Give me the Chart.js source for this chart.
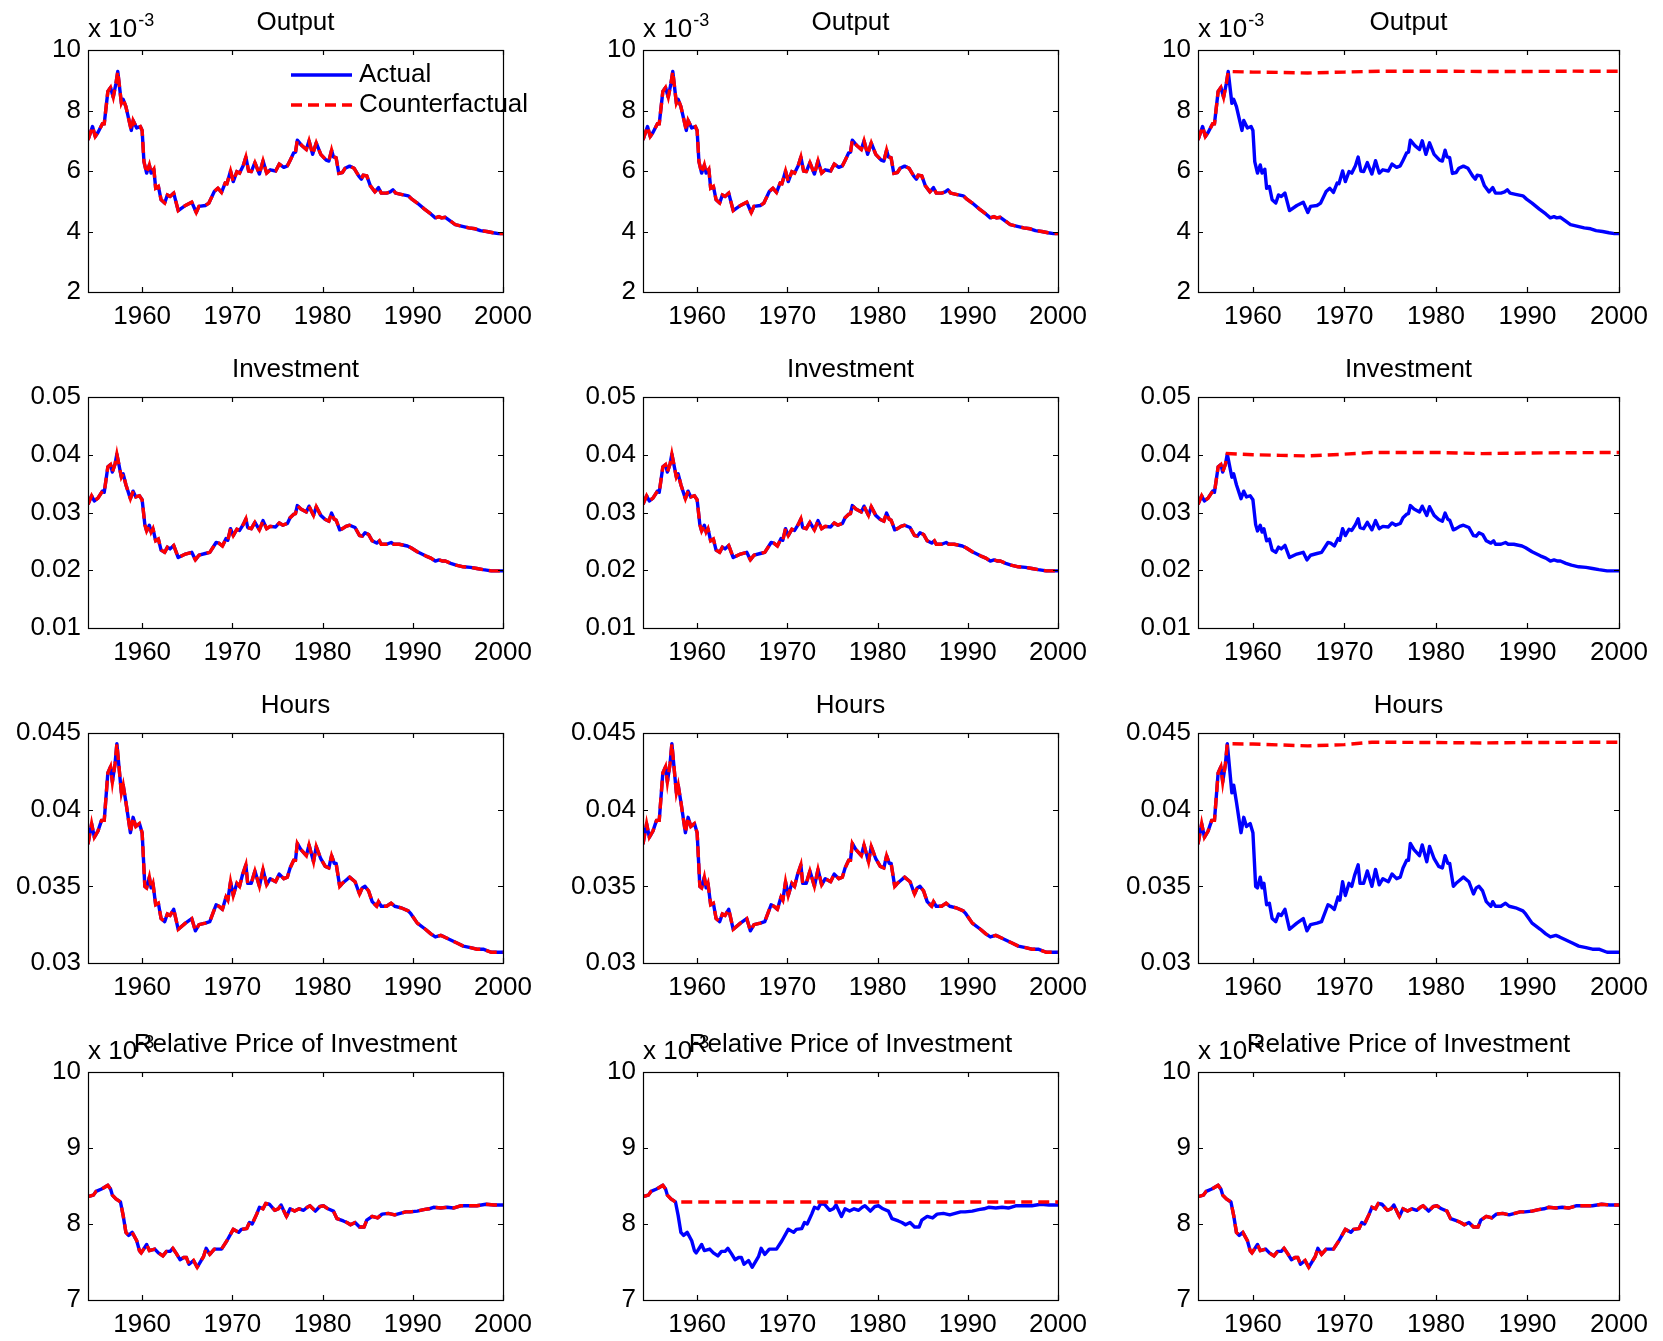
<!DOCTYPE html>
<html>
<head>
<meta charset="utf-8">
<script src="https://cdn.jsdelivr.net/npm/chart.js@4.4.0/dist/chart.umd.min.js"></script>
<style>
body { margin: 0; background: #fff; }
#page { position: relative; width: 1663px; height: 1341px; overflow: hidden; background: #fff; }
#page canvas { position: absolute; }
</style>
</head>
<body>
<div id="page"></div>
<script>
// x axis (years)
var xMin = 1954, xMax = 2000;
var xTicks = [1960, 1970, 1980, 1990, 2000];

// Output, in units of 10^-3
var outputYears = [1954.0, 1954.5, 1954.8, 1955.1, 1955.6, 1955.8, 1956.2, 1956.5, 1956.8, 1957.1, 1957.3, 1957.7, 1957.9, 1958.2, 1958.8, 1959.0, 1959.4, 1959.8,
    1960.0, 1960.2, 1960.5, 1960.8, 1961.0, 1961.3, 1961.5, 1961.8, 1962.1, 1962.5, 1962.8, 1963.1, 1963.5, 1964.0, 1964.8, 1965.5, 1966.0, 1966.3, 1967.0, 1967.4,
    1968.0, 1968.4, 1968.8, 1969.2, 1969.4, 1969.8, 1970.1, 1970.5, 1970.8, 1971.2, 1971.5, 1971.8, 1972.1, 1972.5, 1973.0, 1973.4, 1973.8, 1974.2, 1974.8,
    1975.2, 1975.7, 1976.1, 1976.4, 1976.8, 1977.0, 1977.2, 1977.7, 1978.2, 1978.5, 1978.9, 1979.3, 1979.8, 1980.4, 1980.7, 1981.0, 1981.2, 1981.5, 1981.8,
    1982.2, 1982.5, 1983.0, 1983.5, 1984.0, 1984.3, 1984.5, 1984.9, 1985.3, 1985.8, 1986.2, 1986.5, 1987.1, 1987.5, 1987.8, 1988.1, 1988.7, 1989.5, 1989.9,
    1990.5, 1991.3, 1992.0, 1992.5, 1992.9, 1993.2, 1993.6, 1994.1, 1994.7, 1995.5, 1996.2, 1996.9, 1997.5, 1998.2, 1998.9, 1999.5, 2000.0];
var outputValues = [7.03, 7.47, 7.14, 7.27, 7.56, 7.56, 8.63, 8.76, 8.44, 8.90, 9.29, 8.24, 8.37, 8.13, 7.34, 7.67, 7.42, 7.47,
    7.34, 6.31, 5.93, 6.20, 5.93, 6.06, 5.43, 5.49, 5.05, 4.94, 5.21, 5.16, 5.27, 4.69, 4.86, 4.97, 4.63, 4.83, 4.86, 4.94,
    5.32, 5.43, 5.29, 5.60, 5.58, 6.00, 5.65, 5.98, 5.93, 6.17, 6.46, 6.00, 5.98, 6.28, 5.90, 6.34, 5.93, 6.04, 6.00,
    6.23, 6.12, 6.17, 6.35, 6.60, 6.62, 7.02, 6.84, 6.71, 7.00, 6.55, 6.93, 6.55, 6.36, 6.33, 6.69, 6.47, 6.44, 5.92,
    5.95, 6.09, 6.16, 6.09, 5.84, 5.73, 5.86, 5.84, 5.51, 5.31, 5.45, 5.27, 5.27, 5.31, 5.38, 5.27, 5.23, 5.18, 5.07,
    4.94, 4.74, 4.58, 4.45, 4.49, 4.45, 4.47, 4.36, 4.23, 4.17, 4.12, 4.09, 4.03, 4.00, 3.96, 3.93, 3.93];
// counterfactual after the 1957 peak (third column)
var outputCfYears = [1957.3, 1960, 1963, 1966, 1970, 1974, 1980, 1985, 1990, 1995, 2000];
var outputCfValues = [9.29, 9.27, 9.26, 9.24, 9.27, 9.30, 9.30, 9.29, 9.29, 9.30, 9.30];
var outputTicks = [2, 4, 6, 8, 10];
var outputTickLabels = ['2', '4', '6', '8', '10'];

// Investment
var investYears = [1954.0, 1954.4, 1954.7, 1955.1, 1955.6, 1955.8, 1956.2, 1956.5, 1956.7, 1957.0, 1957.2, 1957.7, 1957.9, 1958.2, 1958.7, 1959.0, 1959.3, 1959.7,
    1960.0, 1960.3, 1960.5, 1960.8, 1961.0, 1961.2, 1961.5, 1961.8, 1962.1, 1962.5, 1962.8, 1963.1, 1963.5, 1964.0, 1964.8, 1965.5, 1965.9, 1966.3, 1967.0, 1967.5,
    1968.2, 1968.5, 1968.9, 1969.3, 1969.5, 1969.8, 1970.1, 1970.5, 1970.8, 1971.2, 1971.5, 1971.7, 1972.1, 1972.5, 1973.0, 1973.4, 1973.8, 1974.2, 1974.8,
    1975.2, 1975.6, 1976.1, 1976.4, 1976.8, 1977.0, 1977.2, 1977.6, 1978.2, 1978.5, 1979.0, 1979.3, 1979.8, 1980.3, 1980.7, 1981.0, 1981.3, 1981.5, 1981.9,
    1982.2, 1982.6, 1983.0, 1983.6, 1984.1, 1984.4, 1984.7, 1985.1, 1985.5, 1986.0, 1986.3, 1986.5, 1987.1, 1987.6, 1987.9, 1988.5, 1989.4, 1989.8,
    1990.5, 1991.4, 1992.0, 1992.5, 1992.9, 1993.3, 1993.6, 1994.2, 1994.8, 1995.6, 1996.4, 1997.1, 1997.8, 1998.7, 2000.0];
var investValues = [0.0314, 0.0329, 0.0320, 0.0325, 0.0337, 0.0335, 0.0379, 0.0383, 0.0370, 0.0384, 0.0401, 0.0361, 0.0367, 0.0348, 0.0324, 0.0337, 0.0327, 0.0329,
    0.0322, 0.0279, 0.0268, 0.0278, 0.0266, 0.0272, 0.0251, 0.0254, 0.0235, 0.0231, 0.0240, 0.0237, 0.0243, 0.0222, 0.0228, 0.0231, 0.0218, 0.0226, 0.0229, 0.0231,
    0.0248, 0.0247, 0.0242, 0.0255, 0.0252, 0.0272, 0.0260, 0.0271, 0.0269, 0.0279, 0.0289, 0.0274, 0.0272, 0.0283, 0.0270, 0.0286, 0.0272, 0.0276, 0.0275,
    0.0282, 0.0278, 0.0281, 0.0291, 0.0297, 0.0298, 0.0312, 0.0306, 0.0301, 0.0311, 0.0295, 0.0310, 0.0295, 0.0288, 0.0285, 0.0299, 0.0288, 0.0287, 0.0270,
    0.0272, 0.0276, 0.0278, 0.0274, 0.0260, 0.0259, 0.0265, 0.0262, 0.0251, 0.0247, 0.0251, 0.0245, 0.0245, 0.0248, 0.0245, 0.0245, 0.0242, 0.0239,
    0.0232, 0.0225, 0.0221, 0.0216, 0.0218, 0.0216, 0.0216, 0.0212, 0.0209, 0.0206, 0.0205, 0.0203, 0.0201, 0.0199, 0.0199];
var investCfYears = [1957.2, 1960, 1963, 1966, 1970, 1973, 1980, 1985, 1990, 2000];
var investCfValues = [0.0402, 0.0400, 0.0399, 0.0398, 0.0401, 0.0404, 0.0404, 0.0402, 0.0403, 0.0404];
var investTicks = [0.01, 0.02, 0.03, 0.04, 0.05];
var investTickLabels = ['0.01', '0.02', '0.03', '0.04', '0.05'];

// Hours
var hoursYears = [1954.0, 1954.4, 1954.7, 1955.1, 1955.5, 1955.8, 1956.2, 1956.5, 1956.7, 1957.0, 1957.2, 1957.7, 1957.9, 1958.2, 1958.7, 1959.0, 1959.3, 1959.7,
    1960.0, 1960.3, 1960.5, 1960.8, 1961.0, 1961.2, 1961.5, 1961.8, 1962.1, 1962.5, 1962.8, 1963.1, 1963.5, 1964.0, 1964.8, 1965.5, 1965.9, 1966.3, 1967.0, 1967.5,
    1968.2, 1968.5, 1968.9, 1969.3, 1969.5, 1969.8, 1970.1, 1970.5, 1970.8, 1971.1, 1971.5, 1971.7, 1972.1, 1972.5, 1973.0, 1973.4, 1973.8, 1974.2, 1974.8,
    1975.2, 1975.7, 1976.1, 1976.4, 1976.8, 1977.0, 1977.2, 1977.6, 1978.2, 1978.5, 1979.0, 1979.3, 1979.8, 1980.3, 1980.7, 1981.0, 1981.3, 1981.5, 1981.9,
    1982.2, 1982.6, 1983.0, 1983.6, 1984.1, 1984.4, 1984.7, 1985.1, 1985.5, 1986.0, 1986.2, 1986.5, 1987.1, 1987.6, 1988.0, 1988.7, 1989.5, 1989.8,
    1990.5, 1991.4, 1992.0, 1992.5, 1993.1, 1993.5, 1994.2, 1994.9, 1995.6, 1996.4, 1997.1, 1997.8, 1998.7, 2000.0];
var hoursValues = [0.03775, 0.0391, 0.0382, 0.0386, 0.0393, 0.0393, 0.0424, 0.0428, 0.0418, 0.0430, 0.0443, 0.0411, 0.0416, 0.0405, 0.0385, 0.0395, 0.0389, 0.0391,
    0.0385, 0.0350, 0.0349, 0.0356, 0.0349, 0.0352, 0.0338, 0.0339, 0.0329, 0.0327, 0.0332, 0.0331, 0.0335, 0.0322, 0.0326, 0.0329, 0.0321, 0.0325, 0.0326, 0.0327,
    0.0338, 0.0337, 0.0335, 0.0343, 0.0341, 0.0353, 0.0344, 0.0352, 0.0350, 0.0357, 0.0364, 0.0352, 0.0352, 0.0360, 0.0350, 0.0361, 0.0351, 0.0355, 0.0353,
    0.0358, 0.0355, 0.0356, 0.0362, 0.0367, 0.0367, 0.0378, 0.0374, 0.0370, 0.0377, 0.0366, 0.0376, 0.0368, 0.0363, 0.0362, 0.0370, 0.0365, 0.0365, 0.0350,
    0.0352, 0.0354, 0.0356, 0.0353, 0.0345, 0.0349, 0.0350, 0.0347, 0.0340, 0.0337, 0.0340, 0.0337, 0.0337, 0.0339, 0.0337, 0.0336, 0.0334, 0.0332,
    0.0326, 0.0322, 0.0319, 0.0317, 0.0318, 0.0317, 0.0315, 0.0313, 0.0311, 0.0310, 0.0309, 0.0309, 0.0307, 0.0307];
var hoursCfYears = [1957.2, 1960, 1963, 1966, 1970, 1973, 1980, 1985, 1990, 2000];
var hoursCfValues = [0.0443, 0.04428, 0.04422, 0.04416, 0.04424, 0.0444, 0.04438, 0.04435, 0.04438, 0.0444];
var hoursTicks = [0.03, 0.035, 0.04, 0.045];
var hoursTickLabels = ['0.03', '0.035', '0.04', '0.045'];

// Relative price of investment, in units of 10^-3
var priceYears = [1954.0, 1954.6, 1954.9, 1955.5, 1955.8, 1956.2, 1956.5, 1956.7, 1957.1, 1957.6, 1957.9, 1958.2, 1958.5, 1958.9, 1959.4, 1959.7, 1959.9,
    1960.5, 1960.8, 1961.1, 1961.4, 1961.8, 1962.3, 1962.7, 1963.1, 1963.4, 1963.8, 1964.2, 1964.6, 1964.9, 1965.2, 1965.7, 1966.1, 1966.8, 1967.1, 1967.5,
    1968.0, 1968.3, 1968.8, 1969.4, 1970.1, 1970.7, 1971.0, 1971.6, 1971.9, 1972.2, 1972.7, 1973.0, 1973.4, 1973.7, 1974.1, 1974.7, 1975.1, 1975.4,
    1976.0, 1976.4, 1976.9, 1977.4, 1977.9, 1978.3, 1978.6, 1979.2, 1979.7, 1980.1, 1980.6, 1981.2, 1981.6, 1982.3, 1982.7, 1983.1, 1983.6, 1984.1,
    1984.6, 1984.9, 1985.5, 1986.1, 1986.6, 1987.3, 1988.0, 1988.6, 1989.2, 1989.7, 1990.5, 1991.2, 1991.8, 1992.3, 1993.1, 1993.8, 1994.5, 1995.3,
    1996.2, 1997.1, 1998.1, 1999.0, 2000.0];
var priceValues = [8.36, 8.38, 8.43, 8.46, 8.48, 8.51, 8.46, 8.38, 8.33, 8.29, 8.11, 7.89, 7.85, 7.89, 7.78, 7.65, 7.62,
    7.73, 7.65, 7.66, 7.67, 7.62, 7.58, 7.64, 7.64, 7.68, 7.61, 7.53, 7.56, 7.56, 7.47, 7.52, 7.43, 7.57, 7.68, 7.60,
    7.67, 7.67, 7.67, 7.78, 7.93, 7.89, 7.93, 7.94, 8.02, 8.00, 8.13, 8.22, 8.20, 8.27, 8.26, 8.18, 8.20, 8.25,
    8.10, 8.20, 8.17, 8.20, 8.18, 8.22, 8.24, 8.17, 8.23, 8.24, 8.20, 8.17, 8.07, 8.04, 8.02, 7.99, 8.02, 7.96,
    7.96, 8.05, 8.10, 8.08, 8.13, 8.14, 8.12, 8.14, 8.16, 8.16, 8.17, 8.19, 8.20, 8.22, 8.21, 8.22, 8.21, 8.24,
    8.24, 8.24, 8.26, 8.25, 8.25];
var priceCfYears = [1957.6, 2000];
var priceCfValues = [8.29, 8.29];
var priceTicks = [7, 8, 9, 10];
var priceTickLabels = ['7', '8', '9', '10'];

// plot area of each subplot on the page
var colLeft = [88, 643, 1198], colWidth = [415, 415, 421];
var rowTop = [50, 397, 733, 1072], rowHeight = [242, 231, 230, 228];
var padL = 88, padT = 50, padR = 50, padB = 40;
var FONT = '"Liberation Sans", Arial, Helvetica, sans-serif';

function pts(xs, ys) {
    return xs.map(function (x, i) { return {x: x, y: ys[i]}; });
}
// actual path up to the break, then the counterfactual path
function withTail(xs, ys, tx, ty) {
    var out = [];
    for (var i = 0; i < xs.length; i++) {
        if (xs[i] < tx[0]) out.push({x: xs[i], y: ys[i]});
    }
    return out.concat(pts(tx, ty));
}

// box, inward tick marks, title, exponent and legend (matlab look)
var framePlugin = {
    id: 'frame',
    afterDraw: function (chart, args, opts) {
        var a = chart.chartArea, ctx = chart.ctx;
        var sx = chart.scales.x, sy = chart.scales.y;
        ctx.save();
        ctx.strokeStyle = '#000';
        ctx.lineWidth = 1.2;
        ctx.beginPath();
        sx.ticks.forEach(function (t) {
            var px = Math.round(sx.getPixelForValue(t.value)) + 0.5;
            ctx.moveTo(px, a.bottom); ctx.lineTo(px, a.bottom - 5);
            ctx.moveTo(px, a.top); ctx.lineTo(px, a.top + 5);
        });
        sy.ticks.forEach(function (t) {
            var py = Math.round(sy.getPixelForValue(t.value)) + 0.5;
            ctx.moveTo(a.left, py); ctx.lineTo(a.left + 5, py);
            ctx.moveTo(a.right, py); ctx.lineTo(a.right - 5, py);
        });
        ctx.stroke();
        ctx.strokeRect(Math.round(a.left) + 0.5, Math.round(a.top) + 0.5, Math.round(a.right - a.left), Math.round(a.bottom - a.top));

        ctx.fillStyle = '#000';
        if (opts.legend) {
            var lx = a.left + 203, ly = a.top + 25;
            ctx.lineWidth = 3.4;
            ctx.strokeStyle = '#0000ff';
            ctx.beginPath(); ctx.moveTo(lx, ly); ctx.lineTo(lx + 61, ly); ctx.stroke();
            ctx.strokeStyle = '#ff0000';
            ctx.setLineDash([11, 6]);
            ctx.beginPath(); ctx.moveTo(lx, ly + 30); ctx.lineTo(lx + 61, ly + 30); ctx.stroke();
            ctx.setLineDash([]);
            ctx.font = '26px ' + FONT;
            ctx.textAlign = 'left';
            ctx.textBaseline = 'middle';
            ctx.fillText(opts.legend[0], lx + 68, ly);
            ctx.fillText(opts.legend[1], lx + 68, ly + 30);
        }
        ctx.textBaseline = 'alphabetic';
        if (opts.exp) {
            ctx.font = '26px ' + FONT;
            ctx.textAlign = 'left';
            ctx.fillText('x 10', a.left, a.top - 13);
            var w = ctx.measureText('x 10').width;
            ctx.font = '18px ' + FONT;
            ctx.fillText(opts.exp, a.left + w + 1, a.top - 24);
        }
        ctx.font = '26px ' + FONT;
        ctx.textAlign = 'center';
        ctx.fillText(opts.title, (a.left + a.right) / 2, a.top - 20);
        ctx.restore();
    }
};

function makePanel(row, col, title, yMin, yMax, yTicks, yLabels, actual, counter, exp, legend) {
    var w = colWidth[col], h = rowHeight[row];
    var cv = document.createElement('canvas');
    cv.width = padL + w + padR;
    cv.height = padT + h + padB;
    cv.style.left = (colLeft[col] - padL) + 'px';
    cv.style.top = (rowTop[row] - padT) + 'px';
    document.getElementById('page').appendChild(cv);

    new Chart(cv, {
        type: 'line',
        data: {
            datasets: [
                // order: higher is drawn first, so the dashed red sits on top of the blue
                {data: actual, order: 2, borderColor: '#0000ff', borderWidth: 3.4, borderJoinStyle: 'round', pointRadius: 0, fill: false, tension: 0},
                {data: counter, order: 1, borderColor: '#ff0000', borderWidth: 3.4, borderDash: [11, 6], pointRadius: 0, fill: false, tension: 0}
            ]
        },
        options: {
            responsive: false,
            animation: false,
            events: [],
            layout: {padding: {top: padT, right: padR, left: 0, bottom: 0}},
            scales: {
                x: {
                    type: 'linear',
                    min: xMin,
                    max: xMax,
                    grid: {display: false, drawTicks: false},
                    border: {display: false},
                    afterBuildTicks: function (s) { s.ticks = xTicks.map(function (v) { return {value: v}; }); },
                    afterFit: function (s) { s.height = padB; s.paddingLeft = 0; s.paddingRight = 0; },
                    ticks: {
                        padding: 9, color: '#000', maxRotation: 0, autoSkip: false,
                        font: {family: FONT, size: 26},
                        callback: function (v) { return String(v); }
                    }
                },
                y: {
                    type: 'linear',
                    min: yMin,
                    max: yMax,
                    grid: {display: false, drawTicks: false},
                    border: {display: false},
                    afterBuildTicks: function (s) { s.ticks = yTicks.map(function (v) { return {value: v}; }); },
                    afterFit: function (s) { s.width = padL; s.paddingTop = 0; s.paddingBottom = 0; },
                    ticks: {
                        padding: 7, color: '#000', autoSkip: false,
                        font: {family: FONT, size: 26},
                        callback: function (v, i) { return yLabels[i]; }
                    }
                }
            },
            plugins: {
                legend: {display: false},
                tooltip: {enabled: false},
                frame: {title: title, exp: exp, legend: legend}
            }
        },
        plugins: [framePlugin]
    });
}

var outputActual = pts(outputYears, outputValues);
var investActual = pts(investYears, investValues);
var hoursActual = pts(hoursYears, hoursValues);
var priceActual = pts(priceYears, priceValues);

// row 1: output
makePanel(0, 0, 'Output', 2, 10, outputTicks, outputTickLabels, outputActual, pts(outputYears, outputValues), '-3', ['Actual', 'Counterfactual']);
makePanel(0, 1, 'Output', 2, 10, outputTicks, outputTickLabels, outputActual, pts(outputYears, outputValues), '-3', null);
makePanel(0, 2, 'Output', 2, 10, outputTicks, outputTickLabels, outputActual,
    withTail(outputYears, outputValues, outputCfYears, outputCfValues), '-3', null);

// row 2: investment
makePanel(1, 0, 'Investment', 0.01, 0.05, investTicks, investTickLabels, investActual, pts(investYears, investValues), null, null);
makePanel(1, 1, 'Investment', 0.01, 0.05, investTicks, investTickLabels, investActual, pts(investYears, investValues), null, null);
makePanel(1, 2, 'Investment', 0.01, 0.05, investTicks, investTickLabels, investActual,
    withTail(investYears, investValues, investCfYears, investCfValues), null, null);

// row 3: hours
makePanel(2, 0, 'Hours', 0.03, 0.045, hoursTicks, hoursTickLabels, hoursActual, pts(hoursYears, hoursValues), null, null);
makePanel(2, 1, 'Hours', 0.03, 0.045, hoursTicks, hoursTickLabels, hoursActual, pts(hoursYears, hoursValues), null, null);
makePanel(2, 2, 'Hours', 0.03, 0.045, hoursTicks, hoursTickLabels, hoursActual,
    withTail(hoursYears, hoursValues, hoursCfYears, hoursCfValues), null, null);

// row 4: relative price of investment
makePanel(3, 0, 'Relative Price of Investment', 7, 10, priceTicks, priceTickLabels, priceActual, pts(priceYears, priceValues), '-3', null);
makePanel(3, 1, 'Relative Price of Investment', 7, 10, priceTicks, priceTickLabels, priceActual,
    withTail(priceYears, priceValues, priceCfYears, priceCfValues), '-3', null);
makePanel(3, 2, 'Relative Price of Investment', 7, 10, priceTicks, priceTickLabels, priceActual, pts(priceYears, priceValues), '-3', null);
</script>
</body>
</html>
